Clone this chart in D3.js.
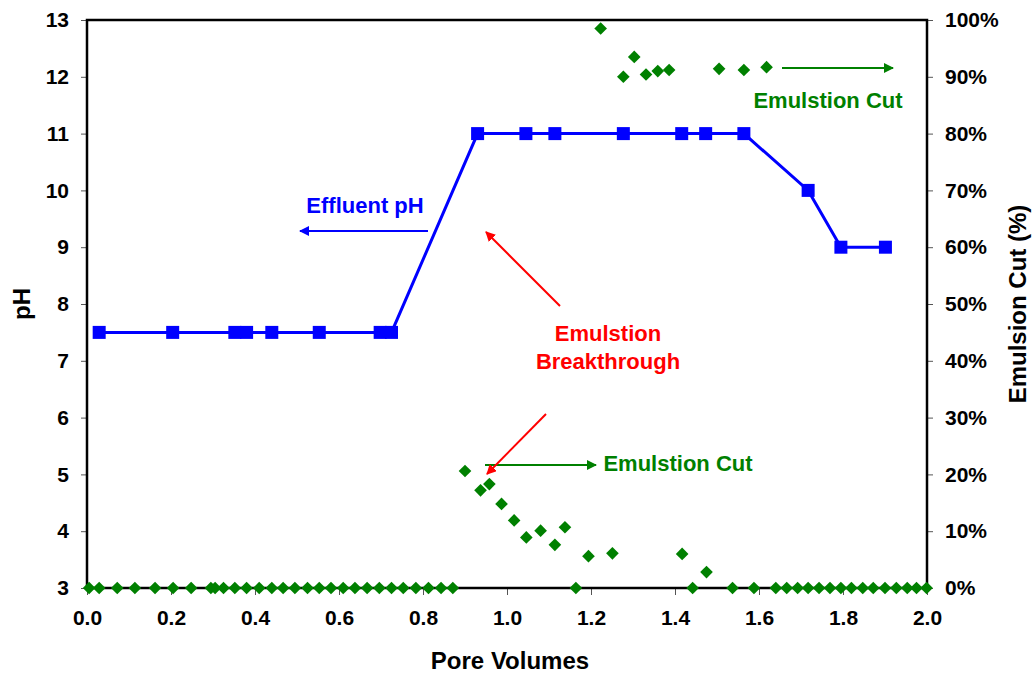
<!DOCTYPE html>
<html>
<head>
<meta charset="utf-8">
<script src="https://cdn.jsdelivr.net/npm/d3@7"></script>
<style>
  body { margin: 0; background: #fff; }
  svg text { font-family: "Liberation Sans", Arial, sans-serif; font-weight: bold; }
</style>
</head>
<body>
<div id="chart"></div>
<script>
// effluent pH (left axis)
let phPV = [0.029, 0.204, 0.352, 0.380, 0.440, 0.553, 0.698, 0.725,
            0.930, 1.045, 1.114, 1.277, 1.416, 1.473, 1.564, 1.717, 1.795, 1.901]
let phVal = [7.5, 7.5, 7.5, 7.5, 7.5, 7.5, 7.5, 7.5,
             11, 11, 11, 11, 11, 11, 11, 10, 9, 9]

// emulsion cut (right axis, %)
let cutPV = [0.005, 0.029, 0.072, 0.114, 0.162, 0.205, 0.248, 0.295, 0.305, 0.325,
             0.352, 0.380, 0.410, 0.440, 0.467, 0.495, 0.525, 0.553, 0.581, 0.610,
             0.638, 0.667, 0.696, 0.725, 0.753, 0.783, 0.813, 0.843, 0.871,
             0.900, 0.937, 0.958, 0.987, 1.017, 1.046, 1.080, 1.114, 1.138, 1.164,
             1.194, 1.223, 1.251, 1.277, 1.303, 1.331, 1.359, 1.386, 1.417, 1.442,
             1.475, 1.505, 1.537, 1.564, 1.588, 1.618, 1.640, 1.666, 1.692, 1.717,
             1.743, 1.769, 1.795, 1.820, 1.847, 1.872, 1.900, 1.927, 1.953, 1.975, 1.999]
let cutVal = [0, 0, 0, 0, 0, 0, 0, 0, 0, 0,
              0, 0, 0, 0, 0, 0, 0, 0, 0, 0,
              0, 0, 0, 0, 0, 0, 0, 0, 0,
              20.6, 17.2, 18.3, 14.8, 11.9, 8.9, 10.1, 7.6, 10.7, 0,
              5.6, 98.5, 6.1, 90.0, 93.5, 90.4, 91.0, 91.2, 6.0, 0,
              2.8, 91.4, 0, 91.2, 0, 91.7, 0, 0, 0, 0,
              0, 0, 0, 0, 0, 0, 0, 0, 0, 0, 0]

let xTicks = [0, 0.2, 0.4, 0.6, 0.8, 1.0, 1.2, 1.4, 1.6, 1.8, 2.0]
let phTicks = [3, 4, 5, 6, 7, 8, 9, 10, 11, 12, 13]
let cutTicks = [0, 10, 20, 30, 40, 50, 60, 70, 80, 90, 100]

let W = 1036, H = 675
let m = {left: 87, right: 109, top: 20, bottom: 87}
let iw = W - m.left - m.right, ih = H - m.top - m.bottom

let svg = d3.select('#chart').append('svg').attr('width', W).attr('height', H)
let g = svg.append('g').attr('transform', 'translate(' + m.left + ',' + m.top + ')')

let x = d3.scaleLinear().domain([0, 2]).range([0, iw])
let yL = d3.scaleLinear().domain([3, 13]).range([ih, 0])
let yR = d3.scaleLinear().domain([0, 100]).range([ih, 0])

// axes
let xAxis = d3.axisBottom(x).tickValues(xTicks).tickFormat(d3.format('.1f')).tickSize(7).tickPadding(15)
let lAxis = d3.axisLeft(yL).tickValues(phTicks).tickFormat(d3.format('d')).tickSize(6).tickPadding(12)
let rAxis = d3.axisRight(yR).tickValues(cutTicks).tickFormat(d => d + '%').tickSize(6).tickPadding(12)

function styleAxis(sel) {
  sel.select('.domain').remove()
  sel.selectAll('.tick line').attr('stroke', '#555').attr('stroke-width', 1)
  sel.selectAll('.tick text').attr('fill', '#000').style('font-size', '21px')
}
g.append('g').attr('transform', 'translate(0,' + ih + ')').call(xAxis).call(styleAxis)
g.append('g').call(lAxis).call(styleAxis)
g.append('g').attr('transform', 'translate(' + iw + ',0)').call(rAxis).call(styleAxis)

// frame
g.append('rect').attr('width', iw).attr('height', ih)
  .attr('fill', 'none').attr('stroke', '#000').attr('stroke-width', 2.5)

// axis titles
svg.append('text').attr('x', 510).attr('y', 669)
  .attr('text-anchor', 'middle').style('font-size', '24px').text('Pore Volumes')
svg.append('text').attr('transform', 'translate(30,304) rotate(-90)')
  .attr('text-anchor', 'middle').style('font-size', '24px').text('pH')
svg.append('text').attr('transform', 'translate(1026,' + (m.top + ih / 2) + ') rotate(-90)')
  .attr('text-anchor', 'middle').style('font-size', '24px').text('Emulsion Cut (%)')

// arrow heads
let defs = svg.append('defs')
function marker(id, color) {
  defs.append('marker').attr('id', id).attr('viewBox', '0 0 10 10')
    .attr('refX', 9).attr('refY', 5).attr('markerWidth', 5).attr('markerHeight', 5)
    .attr('markerUnits', 'strokeWidth').attr('orient', 'auto')
    .append('path').attr('d', 'M0,0 L10,5 L0,10 Z').attr('fill', color)
}
marker('arrBlue', '#0000ff')
marker('arrGreen', '#008000')
marker('arrRed', '#ff0000')

// emulsion cut points
let cutData = cutPV.map((d, i) => [d, cutVal[i]])
g.selectAll('.dia').data(cutData).enter().append('path')
  .attr('class', 'dia')
  .attr('d', d3.symbol().type(d3.symbolSquare).size(80))
  .attr('transform', d => 'translate(' + x(d[0]) + ',' + yR(d[1]) + ') rotate(45)')
  .attr('fill', '#008000')

// pH line
let phData = phPV.map((d, i) => [d, phVal[i]])
let line = d3.line().x(d => x(d[0])).y(d => yL(d[1]))
g.append('path').datum(phData).attr('d', line)
  .attr('fill', 'none').attr('stroke', '#0000ff').attr('stroke-width', 3)
g.selectAll('.sq').data(phData).enter().append('rect')
  .attr('class', 'sq')
  .attr('x', d => x(d[0]) - 6.5).attr('y', d => yL(d[1]) - 6.5)
  .attr('width', 13).attr('height', 13)
  .attr('fill', '#0000ff')

// annotations
function arrow(x1, y1, x2, y2, color, id, w) {
  svg.append('line').attr('x1', x1).attr('y1', y1).attr('x2', x2).attr('y2', y2)
    .attr('stroke', color).attr('stroke-width', w).attr('marker-end', 'url(#' + id + ')')
}
function label(cx, y, color, txt) {
  svg.append('text').attr('x', cx).attr('y', y).attr('text-anchor', 'middle')
    .attr('fill', color).style('font-size', '22px').text(txt)
}
arrow(428, 231, 300, 231, '#0000ff', 'arrBlue', 2)
label(365, 213, '#0000ff', 'Effluent pH')

arrow(782, 68, 893, 68, '#008000', 'arrGreen', 2)
label(828, 108, '#008000', 'Emulstion Cut')

arrow(485, 465, 596, 465, '#008000', 'arrGreen', 2)
label(678, 471, '#008000', 'Emulstion Cut')

arrow(560, 306, 486, 232, '#ff0000', 'arrRed', 2)
arrow(546, 414, 487, 474, '#ff0000', 'arrRed', 2)
label(608, 341, '#ff0000', 'Emulstion')
label(608, 369, '#ff0000', 'Breakthrough')
</script>
</body>
</html>
